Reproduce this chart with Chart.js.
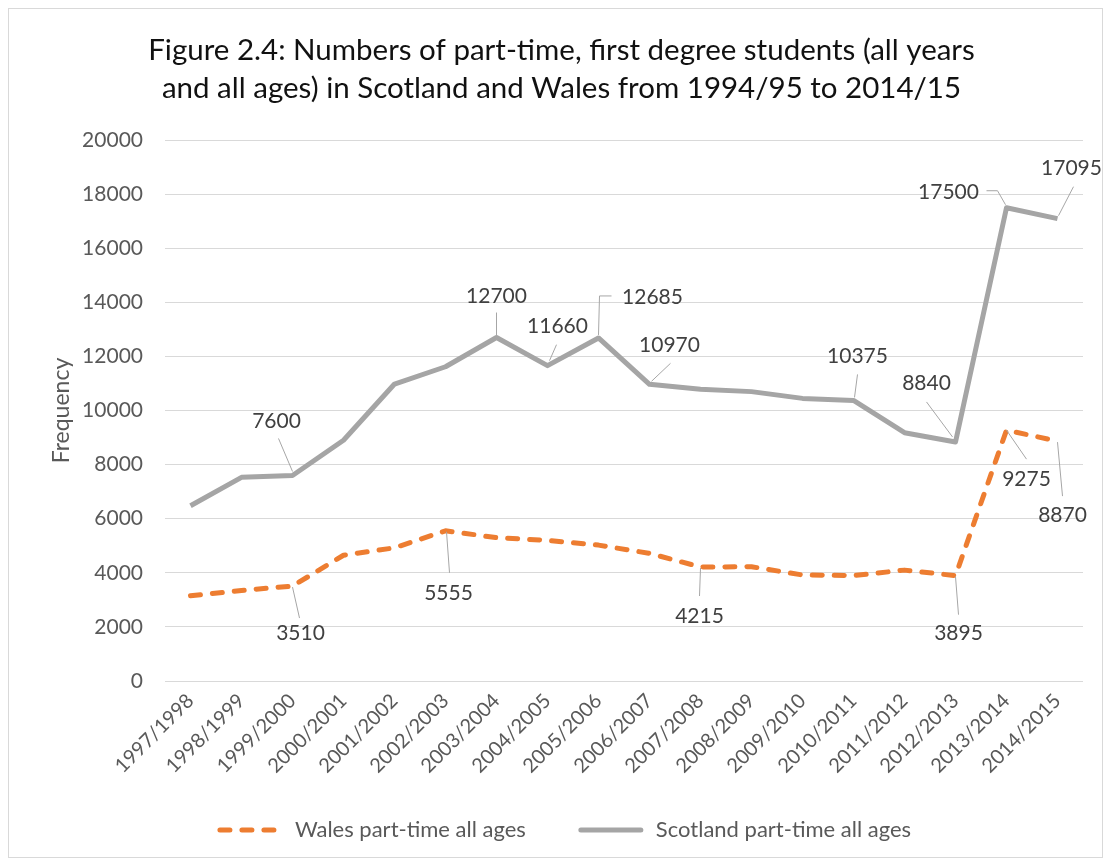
<!DOCTYPE html>
<html>
<head>
<meta charset="utf-8">
<script src="https://cdn.jsdelivr.net/npm/chart.js@4.4.1/dist/chart.umd.min.js"></script>
<style>
  html, body { margin: 0; padding: 0; background: #fff; }
  canvas { display: block; }
</style>
</head>
<body>
<canvas id="chart" width="1111" height="865"></canvas>
<script>
  // Academic years on the x axis
  const years = [
    '1997/1998', '1998/1999', '1999/2000', '2000/2001', '2001/2002', '2002/2003',
    '2003/2004', '2004/2005', '2005/2006', '2006/2007', '2007/2008', '2008/2009',
    '2009/2010', '2010/2011', '2011/2012', '2012/2013', '2013/2014', '2014/2015'
  ];

  // Part-time first degree students
  const wales = [
    3150, 3350, 3510, 4650, 4925, 5555, 5300, 5200, 5025, 4720,
    4215, 4225, 3920, 3900, 4100, 3895, 9275, 8870
  ];
  const scotland = [
    6480, 7530, 7600, 8900, 10980, 11620, 12700, 11660, 12685, 10970,
    10790, 10700, 10450, 10375, 9180, 8840, 17500, 17095
  ];

  // Which points carry a value label
  const walesLabelled = [2, 5, 10, 15, 16, 17];
  const scotlandLabelled = [2, 6, 7, 8, 9, 13, 15, 16, 17];

  const FONT = 'Lato, "DejaVu Sans", sans-serif';

  // Label placement (offset of text centre and leader path from the point)
  const walesSpots = {
    2:  { dx: 8,  dy: 47, path: [[0, 1], [7, 32]] },
    5:  { dx: 3,  dy: 62, path: [[1, 1], [4, 42]] },
    10: { dx: -1, dy: 49, path: [[0, 1], [-1, 29]] },
    15: { dx: 3,  dy: 58, path: [[0, 1], [3, 39]] },
    16: { dx: 20, dy: 49, path: [[0, 0], [20, 29]] },
    17: { dx: 5,  dy: 74, path: [[0, 1], [5, 55]] }
  };
  const scotlandSpots = {
    2:  { dx: -16, dy: -54, path: [[-14, -37], [0, -4]] },
    6:  { dx: 0,   dy: -41, path: [[0, -25], [0, -2]] },
    7:  { dx: 10,  dy: -39, path: [[9, -21], [2, -5]] },
    8:  { dx: 54,  dy: -41, path: [[0, -3], [1, -42], [13, -42]] },
    9:  { dx: 20,  dy: -39, path: [[21, -21], [2, -3]] },
    13: { dx: 4,   dy: -44, path: [[4, -26], [1, -3]] },
    15: { dx: -29, dy: -59, path: [[-29, -40], [-3, -5]] },
    16: { dx: -58, dy: -15, path: [[-20, -17], [-9, -17], [-1, -3]] },
    17: { dx: 14,  dy: -50, path: [[16, -32], [1, -3]] }
  };

  // Value labels with leader lines, outer frame and the legend
  const decorPlugin = {
    id: 'decor',
    beforeDraw(chart) {
      const ctx = chart.ctx;
      ctx.save();
      ctx.strokeStyle = '#D9D9D9';
      ctx.lineWidth = 1;
      ctx.strokeRect(8.5, 8.5, 1094, 849);
      ctx.restore();
    },
    afterDatasetsDraw(chart) {
      const ctx = chart.ctx;
      ctx.save();
      chart.data.datasets.forEach((ds, di) => {
        const meta = chart.getDatasetMeta(di);
        ds.labelled.forEach(i => {
          const pt = meta.data[i];
          const spot = ds.spots[i];
          ctx.strokeStyle = '#A6A6A6';
          ctx.lineWidth = 1;
          ctx.setLineDash([]);
          ctx.beginPath();
          spot.path.forEach(([x, y], k) => {
            if (k === 0) ctx.moveTo(pt.x + x, pt.y + y);
            else ctx.lineTo(pt.x + x, pt.y + y);
          });
          ctx.stroke();
          ctx.fillStyle = '#404040';
          ctx.font = '21px ' + FONT;
          ctx.textAlign = 'center';
          ctx.textBaseline = 'middle';
          ctx.fillText(String(ds.data[i]), pt.x + spot.dx, pt.y + spot.dy);
        });
      });
      ctx.restore();
    },
    afterDraw(chart) {
      const ctx = chart.ctx;
      const sampleW = 66, gapText = 12, gapItem = 52;
      const y = 830;
      ctx.save();
      ctx.font = '22px ' + FONT;
      const items = chart.data.datasets.map(ds => ({ ds, w: ctx.measureText(ds.label).width }));
      const total = items.reduce((s, it) => s + sampleW + gapText + it.w, 0) + gapItem * (items.length - 1);
      let x = 564 - total / 2;
      items.forEach(({ ds, w }) => {
        ctx.strokeStyle = ds.borderColor;
        ctx.lineWidth = ds.borderWidth;
        ctx.lineCap = 'round';
        ctx.setLineDash(ds.borderDash || []);
        ctx.beginPath();
        ctx.moveTo(x + 3, y);
        ctx.lineTo(x + sampleW - 3, y);
        ctx.stroke();
        ctx.setLineDash([]);
        ctx.fillStyle = '#595959';
        ctx.textAlign = 'left';
        ctx.textBaseline = 'middle';
        ctx.fillText(ds.label, x + sampleW + gapText, y);
        x += sampleW + gapText + w + gapItem;
      });
      ctx.restore();
    }
  };

  new Chart(document.getElementById('chart'), {
    type: 'line',
    data: {
      labels: years,
      datasets: [
        {
          label: 'Wales part-time all ages',
          data: wales,
          borderColor: '#ED7D31',
          borderWidth: 5,
          borderDash: [10, 12],
          borderCapStyle: 'round',
          borderJoinStyle: 'round',
          pointRadius: 0,
          tension: 0,
          labelled: walesLabelled,
          spots: walesSpots
        },
        {
          label: 'Scotland part-time all ages',
          data: scotland,
          borderColor: '#A5A5A5',
          borderWidth: 5,
          borderJoinStyle: 'round',
          pointRadius: 0,
          tension: 0,
          labelled: scotlandLabelled,
          spots: scotlandSpots
        }
      ]
    },
    options: {
      responsive: false,
      animation: false,
      devicePixelRatio: 1,
      layout: { padding: { top: 31, left: 40, right: 28, bottom: 60 } },
      plugins: {
        legend: { display: false },
        tooltip: { enabled: false },
        title: {
          display: true,
          text: [
            'Figure 2.4: Numbers of part-time, first degree students (all years',
            'and all ages) in Scotland and Wales from 1994/95 to 2014/15'
          ],
          color: '#111',
          font: { family: FONT, size: 29.5, weight: 'normal', lineHeight: 1.29 },
          padding: { top: 0, bottom: 33 }
        }
      },
      scales: {
        x: {
          offset: true,
          grid: { display: false, drawTicks: false },
          border: { display: false },
          ticks: {
            color: '#595959',
            font: { family: FONT, size: 20 },
            maxRotation: 45,
            minRotation: 45,
            autoSkip: false,
            padding: 8
          },
          afterFit(s) { s.height = 124; }
        },
        y: {
          min: 0,
          max: 20000,
          grid: { color: '#D9D9D9', lineWidth: 1, drawTicks: false },
          border: { display: false },
          ticks: {
            stepSize: 2000,
            color: '#595959',
            font: { family: FONT, size: 21 },
            padding: 22,
            callback: v => String(v)
          },
          title: {
            display: true,
            text: 'Frequency',
            color: '#595959',
            font: { family: FONT, size: 23 },
            padding: { top: 8, bottom: 0 }
          },
          afterFit(s) { s.width = 125; }
        }
      }
    },
    plugins: [decorPlugin]
  });
</script>
</body>
</html>
